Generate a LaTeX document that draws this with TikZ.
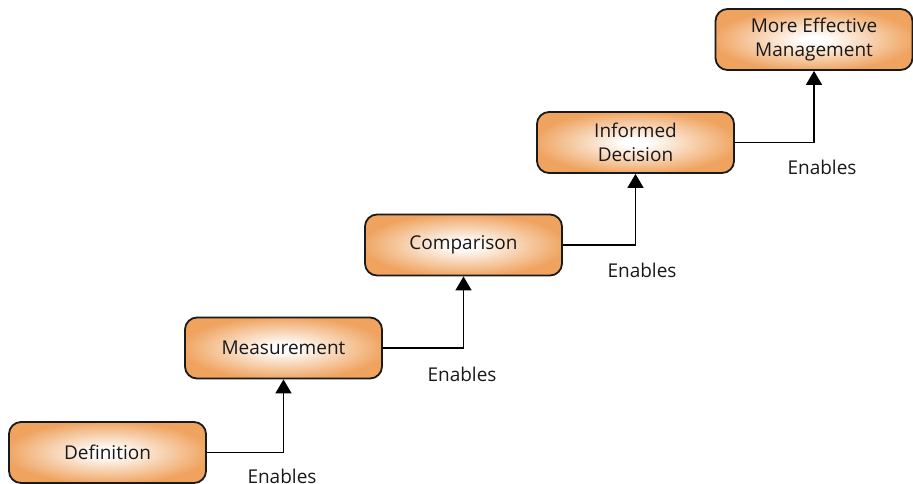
\documentclass[tikz,border=0pt]{standalone}
\usepackage{fontspec}
\setmainfont{Open Sans}
\usetikzlibrary{arrows.meta}
\definecolor{boxorange}{HTML}{EFA35F}
\definecolor{boxline}{HTML}{1A1A1A}
\pgfdeclareradialshading{boxshade}{\pgfpoint{0bp}{0bp}}{%
  color(0bp)=(white); color(3bp)=(white); color(26bp)=(boxorange); color(50bp)=(boxorange)}
\begin{document}
\begin{tikzpicture}[x=1pt,y=-1pt,
  stepbox/.style={draw=boxline, line width=1.8pt, rounded corners=12pt,
    shading=boxshade, minimum width=197pt, minimum height=61pt,
    font=\fontsize{19}{21}\selectfont, align=center, inner sep=0pt, text=black!90},
  conn/.style={line width=1.5pt, -{Triangle[width=16pt,length=14pt]}},
  lbl/.style={font=\fontsize{19}{21}\selectfont, inner sep=0pt, text=black!90}]
\useasboundingbox (0,0) rectangle (913,483);
\node[stepbox] (def) at (107.5,452.5) {Definition};
\node[stepbox] (meas) at (283.5,348) {Measurement};
\node[stepbox] (comp) at (463.5,245) {Comparison};
\node[stepbox] (dec) at (635.5,142.5) {Informed\\[3pt]Decision};
\node[stepbox] (mgmt) at (814,39.5) {More Effective\\[3pt]Management};
\draw[conn] (def.east) -| (meas.south);
\draw[conn] (meas.east) -| (comp.south);
\draw[conn] (comp.east) -| (dec.south);
\draw[conn] (dec.east) -| (mgmt.south);
\node[lbl] (e1) at (282,476) {Enables};
\node[lbl] (e2) at (462,374) {Enables};
\node[lbl] (e3) at (642,270) {Enables};
\node[lbl] (e4) at (822,167) {Enables};
\end{tikzpicture}
\end{document}
